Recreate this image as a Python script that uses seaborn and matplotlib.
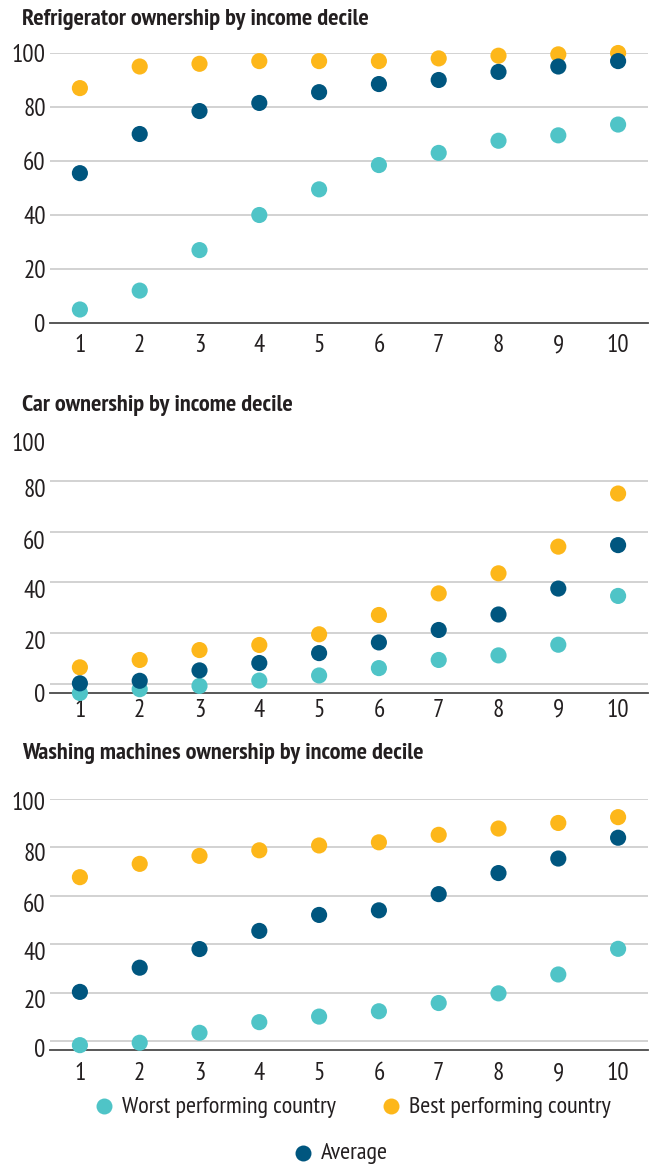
import matplotlib
matplotlib.use("Agg")
import matplotlib.pyplot as plt
from matplotlib.lines import Line2D
from matplotlib.transforms import ScaledTranslation
import seaborn as sns
import pandas as pd

# Income deciles (x axis)
deciles = list(range(1, 11))
series_names = ["Worst performing country", "Best performing country", "Average"]

# Refrigerator ownership (%)
fridge_worst = [5, 12, 27, 40, 49.5, 58.5, 63, 67.5, 69.5, 73.5]
fridge_best = [87, 95, 96, 97, 97, 97, 98, 99, 99.5, 100]
fridge_avg = [55.5, 70, 78.5, 81.5, 85.5, 88.5, 90, 93, 95, 97]

# Car ownership (%)
car_worst = [-3.5, -2, -0.7, 1.4, 3.4, 6.3, 9.5, 11.3, 15.5, 34.7]
car_best = [6.6, 9.5, 13.4, 15.4, 19.6, 27.2, 35.7, 43.6, 54.1, 75]
car_avg = [0.3, 1.3, 5.4, 8.3, 12.2, 16.4, 21.3, 27.4, 37.6, 54.7]

# Washing machine ownership (%)
wash_worst = [-1.7, -0.7, 3.4, 7.8, 10.1, 12.3, 15.7, 19.7, 27.5, 38.1]
wash_best = [67.7, 73.2, 76.5, 78.8, 80.8, 82.1, 85.2, 87.8, 90.1, 92.5]
wash_avg = [20.3, 30.3, 38.0, 45.5, 52.1, 54.0, 60.7, 69.4, 75.4, 84.0]

titles = [
    "Refrigerator ownership by income decile",
    "Car ownership by income decile",
    "Washing machines ownership by income decile",
]
y_ticks = [0, 20, 40, 60, 80, 100]

colors = {
    "Worst performing country": "#4FC4C7",
    "Best performing country": "#FDB71A",
    "Average": "#00567F",
}
TEXT = "#231F20"

sns.set_theme(style="white")
plt.rcParams["font.family"] = ["PT Sans Narrow", "DejaVu Sans"]

W, H = 652, 1164
fig = plt.figure(figsize=(W / 100, H / 100), dpi=100)


def frame(worst, best, avg):
    rows = []
    for name, vals in zip(series_names, [worst, best, avg]):
        for d, v in zip(deciles, vals):
            rows.append({"decile": d, "value": v, "series": name})
    return pd.DataFrame(rows)


# Each panel: vertical extent in pixels, y-range, gridlines, x-label padding
# and per-tick downward nudges of the y labels (pixels).
panels = [
    dict(data=frame(fridge_worst, fridge_best, fridge_avg), top=53, bottom=323,
         ymin=0, title_y=20, grid_ticks=[20, 40, 60, 80, 100], xpad=8,
         nudges=[0, 0, 0, 0, 0, 0]),
    dict(data=frame(car_worst, car_best, car_avg), top=430, bottom=693,
         ymin=-3.5, title_y=405, grid_ticks=[0, 20, 40, 60, 80], xpad=4,
         nudges=[9, 7, 7, 8, 7, 12]),
    dict(data=frame(wash_worst, wash_best, wash_avg), top=799, bottom=1049.5,
         ymin=-3.5, title_y=753, grid_ticks=[0, 20, 40, 60, 80, 100], xpad=9,
         nudges=[7, 6, 7, 7, 5, 2]),
]

left_px, right_px = 50, 648
for title, p in zip(titles, panels):
    ax = fig.add_axes([left_px / W, 1 - p["bottom"] / H,
                       (right_px - left_px) / W, (p["bottom"] - p["top"]) / H])
    for g in p["grid_ticks"]:
        ax.axhline(g, color="#CFCFCF", lw=1.3, zorder=0)
    sns.scatterplot(data=p["data"], x="decile", y="value", hue="series",
                    hue_order=series_names, palette=colors, s=135,
                    edgecolor="none", linewidth=0, legend=False,
                    clip_on=False, zorder=3, ax=ax)
    ax.set_xlim(0.5, 10.5)
    ax.set_ylim(p["ymin"], 100)
    ax.set_xticks(deciles)
    ax.set_yticks(y_ticks)
    ax.set_xlabel("")
    ax.set_ylabel("")
    ax.grid(False)
    for side in ["top", "right", "left"]:
        ax.spines[side].set_visible(False)
    ax.spines["bottom"].set_color("#4A4A4A")
    ax.spines["bottom"].set_linewidth(1.3)
    ax.tick_params(axis="both", length=0, labelsize=18, colors=TEXT)
    ax.tick_params(axis="x", pad=p["xpad"])
    ax.tick_params(axis="y", pad=3)
    for lab, nudge in zip(ax.get_yticklabels(), p["nudges"]):
        if nudge:
            shift = ScaledTranslation(0, -nudge / 100, fig.dpi_scale_trans)
            lab.set_transform(lab.get_transform() + shift)
    fig.text(22 / W, 1 - p["title_y"] / H, title, ha="left", va="center",
             fontsize=17.5, fontweight="bold", color=TEXT)

# Legend: two entries on the first row, the average centred below
legend_items = [
    ("Worst performing country", 104, 1106),
    ("Best performing country", 391, 1106),
    ("Average", 303, 1153),
]
for name, mx, my in legend_items:
    fig.add_artist(Line2D([mx / W], [1 - my / H], transform=fig.transFigure,
                          marker="o", linestyle="none", markersize=11.5,
                          markerfacecolor=colors[name], markeredgewidth=0))
    fig.text((mx + 18) / W, 1 - (my + 1) / H, name, ha="left", va="center",
             fontsize=17.5, color=TEXT)

fig.savefig("out.png", dpi=100)
